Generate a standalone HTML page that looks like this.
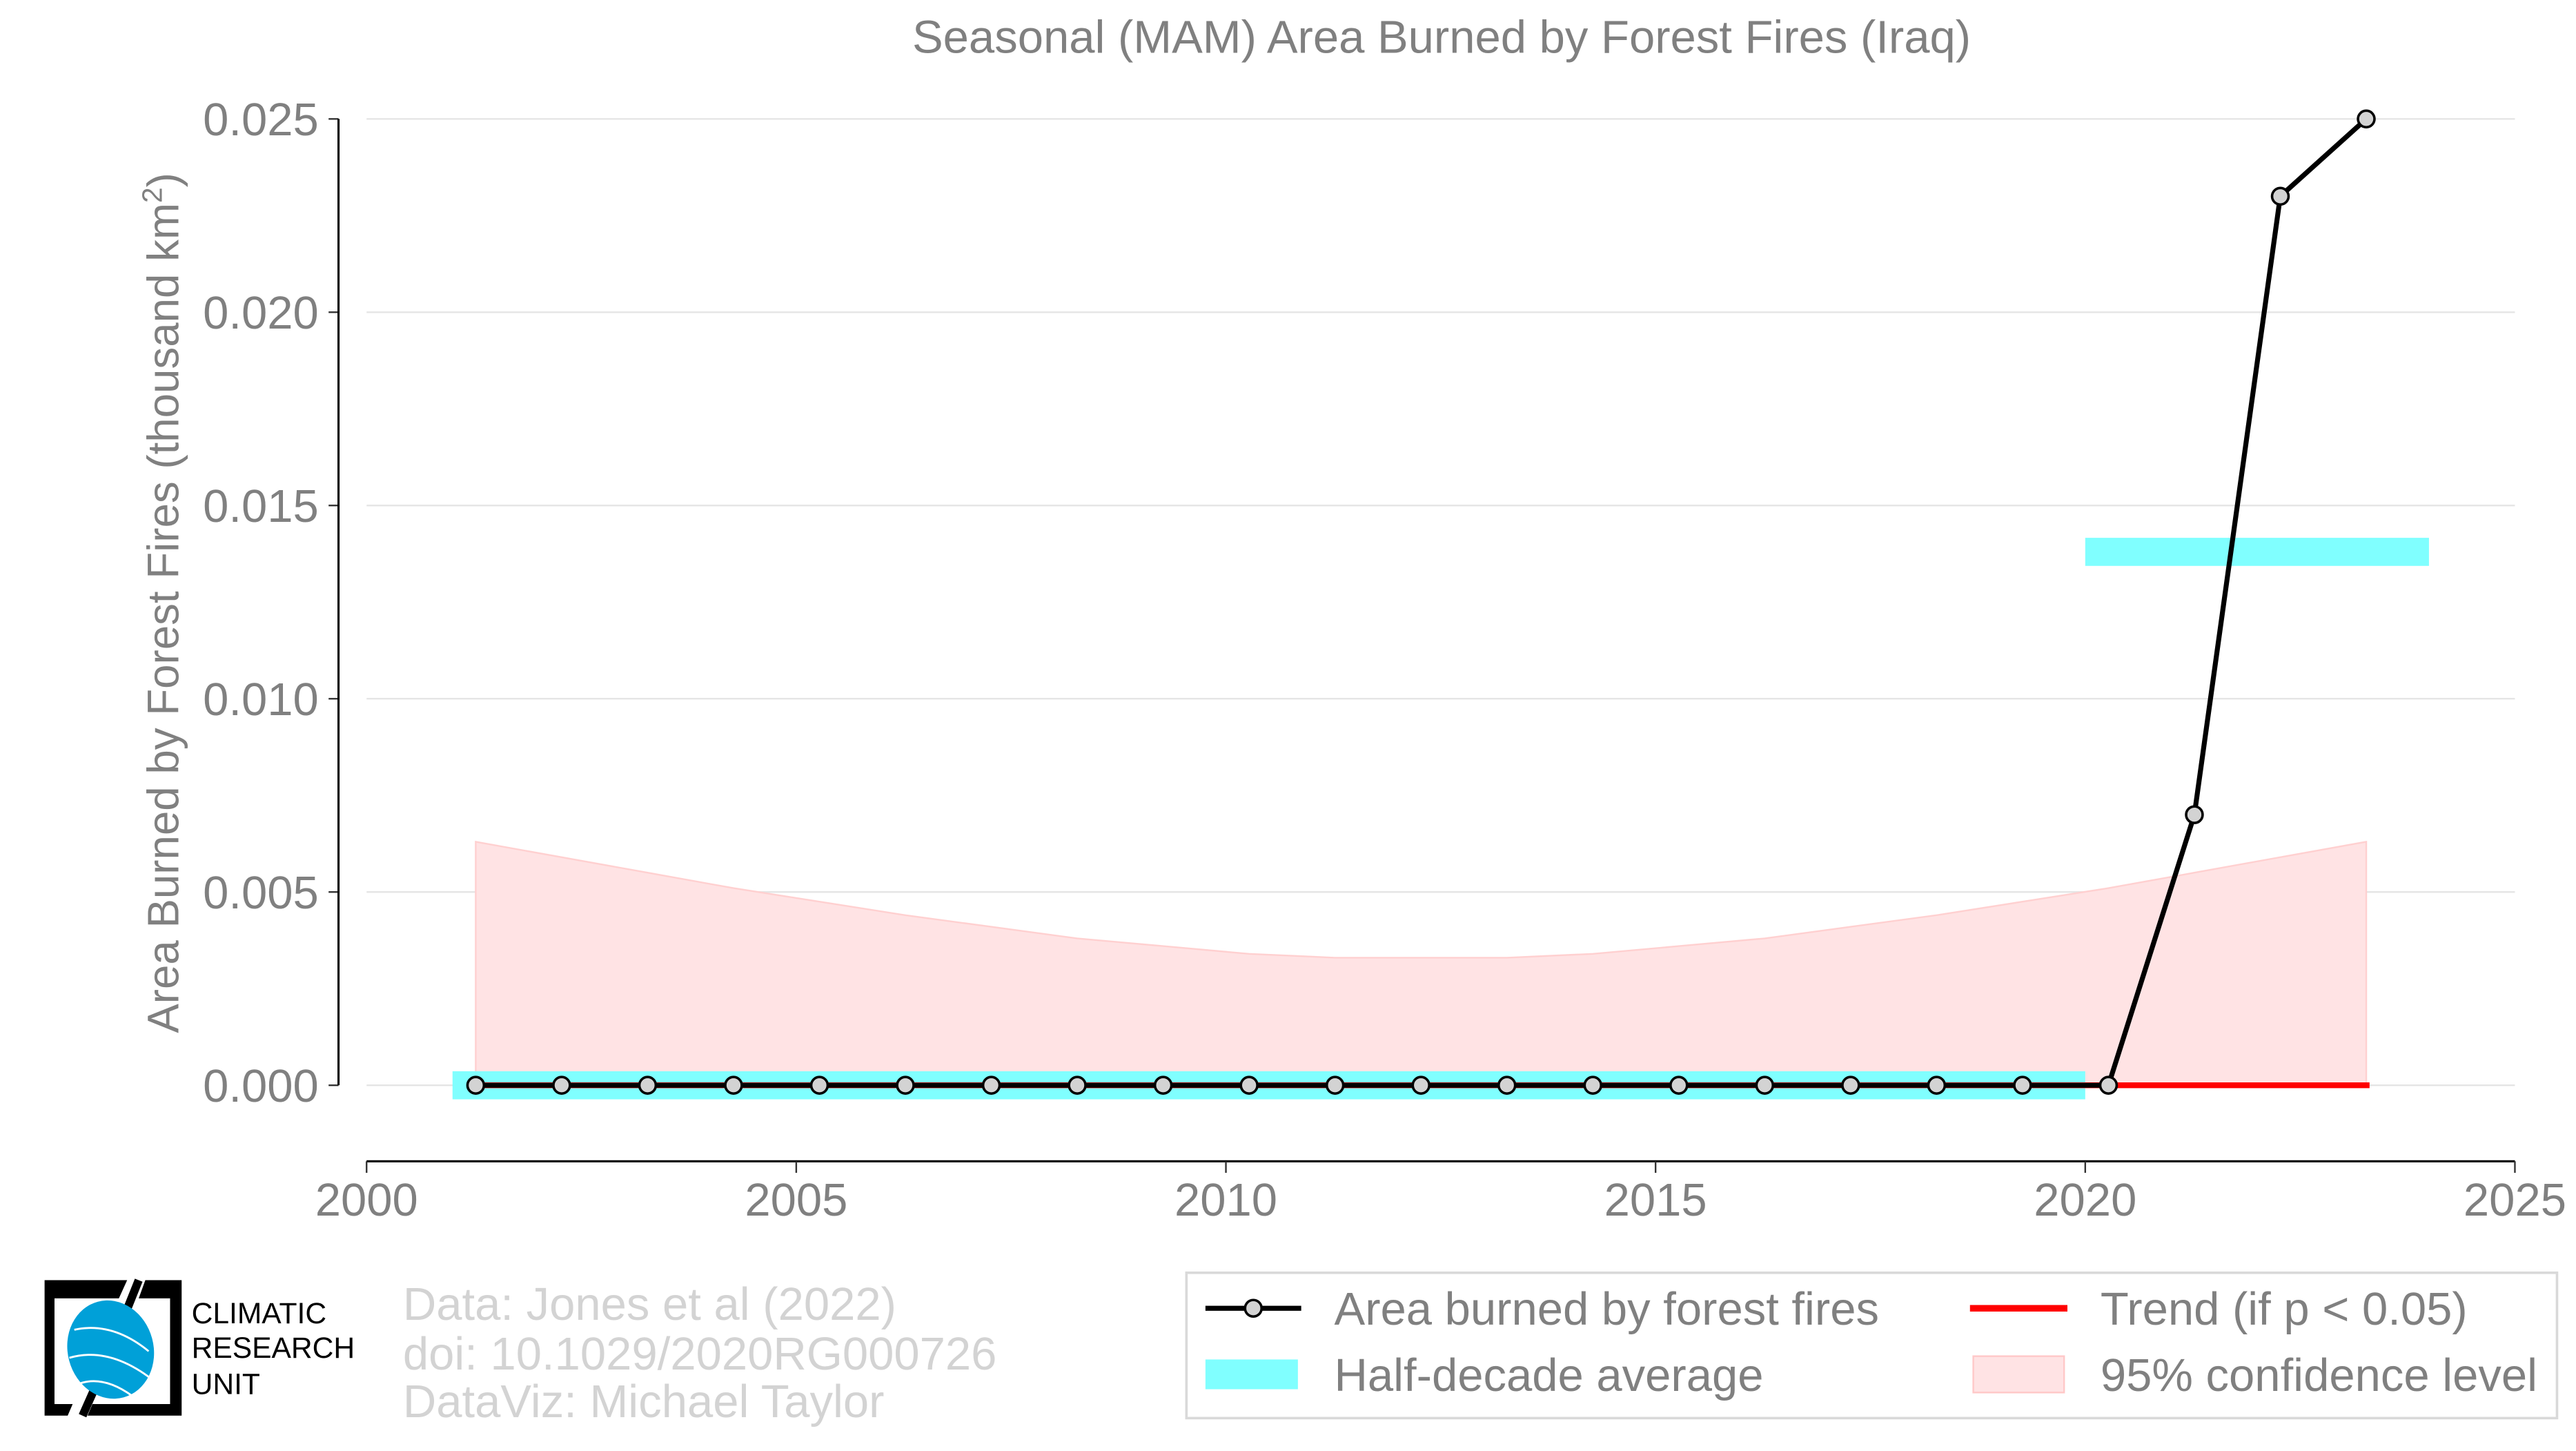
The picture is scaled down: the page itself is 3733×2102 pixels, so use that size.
<!DOCTYPE html>
<html><head><meta charset="utf-8"><style>
html,body{margin:0;padding:0;background:#fff;}
svg{display:block;font-family:"Liberation Sans",Arial,sans-serif;}
</style></head><body>
<svg id="chart" width="3733" height="2102" viewBox="0 0 1560 878.4" xmlns="http://www.w3.org/2000/svg">
<rect x="0" y="0" width="1560" height="878.4" fill="#fff"/>
<text x="873" y="32" text-anchor="middle" font-size="28" fill="#808080">Seasonal (MAM) Area Burned by Forest Fires (Iraq)</text>
<text transform="translate(108,365) rotate(-90)" text-anchor="middle" font-size="26.6" fill="#808080">Area Burned by Forest Fires (thousand km<tspan font-size="17" dy="-10">2</tspan><tspan dy="10">)</tspan></text>
<g id="grid"></g>
<g id="plot"></g>
<g id="axes"></g>

<g>
<path d="M27,775 H77 L72,786 H33 V850 H44 L41,857 H27 Z" fill="#000"/>
<path d="M88,775 H110 V857 H53 L56,850 H103 V786 H84 Z" fill="#000"/>
<path d="M84,775 L70,810 M62,830 L50,857" stroke="#000" stroke-width="5"/>
<ellipse cx="67" cy="817" rx="26" ry="30" fill="#00a0d8" transform="rotate(-15 67 817)"/>
<path d="M45,805 Q68,800 90,818 M42,822 Q66,815 92,835 M47,838 Q62,832 80,845" stroke="#fff" stroke-width="1.2" fill="none"/>
<text x="116" y="801" font-size="17.8" fill="#000">CLIMATIC</text>
<text x="116" y="822" font-size="17.8" fill="#000">RESEARCH</text>
<text x="116" y="844" font-size="17.8" fill="#000">UNIT</text>
</g>
<g font-size="28" fill="#d3d3d3">
<text x="244" y="799">Data: Jones et al (2022)</text>
<text x="244" y="829">doi: 10.1029/2020RG000726</text>
<text x="244" y="858">DataViz: Michael Taylor</text>
</g>

<g>
<rect x="718.5" y="770.5" width="830" height="88" fill="#fff" stroke="#d9d9d9" stroke-width="1.5"/>
<g>
<line x1="730" y1="792" x2="788" y2="792" stroke="#000" stroke-width="3"/>
<circle cx="759" cy="792" r="5" fill="#d3d3d3" stroke="#000" stroke-width="1.5"/>
<text x="808" y="802" font-size="28" fill="#808080">Area burned by forest fires</text>
</g>
<g>
<line x1="1193" y1="792" x2="1252" y2="792" stroke="#ff0000" stroke-width="4"/>
<text x="1272" y="802" font-size="28" fill="#808080">Trend (if p &lt; 0.05)</text>
</g>
<g>
<rect x="730" y="823" width="56" height="18" fill="#80ffff"/>
<text x="808" y="842" font-size="28" fill="#808080">Half-decade average</text>
</g>
<g>
<rect x="1195" y="821" width="55" height="22" fill="#ffe3e4" stroke="#ffc8c8" stroke-width="1"/>
<text x="1272" y="842" font-size="28" fill="#808080">95% confidence level</text>
</g>
</g>
</svg>
<script>
const years = [2001,2002,2003,2004,2005,2006,2007,2008,2009,2010,2011,2012,2013,2014,2015,2016,2017,2018,2019,2020,2021,2022,2023];
const areaValues = [0,0,0,0,0,0,0,0,0,0,0,0,0,0,0,0,0,0,0,0,0.007,0.023,0.025];
const ciUpper = [0.0063,0.0059,0.0055,0.0051,0.00475,0.0044,0.0041,0.0038,0.0036,0.0034,0.0033,0.0033,0.0033,0.0034,0.0036,0.0038,0.0041,0.0044,0.00475,0.0051,0.0055,0.0059,0.0063];
const halfDecadeStart = [2001,2020];
const halfDecadeEnd = [2020,2024];
const halfDecadeValues = [0,0.0138];
const trendValues = [0,0];
const yTicks = [0,0.005,0.010,0.015,0.020,0.025];
const yTickLabels = ["0.000","0.005","0.010","0.015","0.020","0.025"];
const xTicks = [2000,2005,2010,2015,2020,2025];
const xTickLabels = ["2000","2005","2010","2015","2020","2025"];

const NS="http://www.w3.org/2000/svg";
const xScale = v => 222 + (v-2000)*(1523-222)/25;
const yScale = v => 657 - v*(657-72)/0.025;
const off = 0.27;
function mk(tag, attrs, parent){const e=document.createElementNS(NS,tag);for(const k in attrs)e.setAttribute(k,attrs[k]);parent.appendChild(e);return e;}
const grid=document.getElementById('grid'), plot=document.getElementById('plot'), axes=document.getElementById('axes');

yTicks.forEach((t,i)=>{
  const g=mk('line',{x1:222,x2:1523,y1:yScale(t),y2:yScale(t),stroke:'#e5e5e5','stroke-width':1},grid);
  
  
  const tk=mk('line',{x1:199,x2:205,y1:yScale(t),y2:yScale(t),stroke:'#333','stroke-width':1},axes);
  
  
  const tx=mk('text',{x:193,y:yScale(t)+10,'text-anchor':'end','font-size':28,fill:'#808080'},axes);
  tx.textContent=yTickLabels[i];
  
  
});
const yl=mk('line',{x1:205,x2:205,y1:yScale(0.025),y2:yScale(0),stroke:'#000','stroke-width':1.3},axes);


const xl=mk('line',{x1:222,x2:1523,y1:703,y2:703,stroke:'#000','stroke-width':1.3},axes);


xTicks.forEach((t,i)=>{
  const tk=mk('line',{x1:xScale(t),x2:xScale(t),y1:703,y2:710,stroke:'#333','stroke-width':1},axes);
  
  
  const tx=mk('text',{x:xScale(t),y:736,'text-anchor':'middle','font-size':28,fill:'#808080'},axes);
  tx.textContent=xTickLabels[i];
  
  
});

let d='M'+xScale(years[0]+off)+','+yScale(0);
years.forEach((y,i)=>{d+=' L'+xScale(y+off)+','+yScale(ciUpper[i]);});
d+=' L'+xScale(years[years.length-1]+off)+','+yScale(0)+' Z';
const band=mk('path',{d:d,fill:'#ffe3e4',stroke:'#ffd0d0','stroke-width':1},plot);



halfDecadeValues.forEach((v,i)=>{
  const r=mk('rect',{x:xScale(halfDecadeStart[i]),width:xScale(halfDecadeEnd[i])-xScale(halfDecadeStart[i]),y:yScale(v)-8.5,height:17,fill:'#80ffff'},plot);
  
  
});

const tr=mk('line',{x1:xScale(years[0]+off),x2:xScale(years[years.length-1]+off)+2,y1:yScale(trendValues[0]),y2:yScale(trendValues[1]),stroke:'#ff0000','stroke-width':3.5},plot);



const pts=years.map((y,i)=>xScale(y+off)+','+yScale(areaValues[i])).join(' ');
const pl=mk('polyline',{points:pts,fill:'none',stroke:'#000','stroke-width':3,'stroke-linejoin':'round'},plot);


years.forEach((y,i)=>{
  const c=mk('circle',{cx:xScale(y+off),cy:yScale(areaValues[i]),r:5,fill:'#d3d3d3',stroke:'#000','stroke-width':1.5},plot);
  
  
});
</script>
</body></html>
